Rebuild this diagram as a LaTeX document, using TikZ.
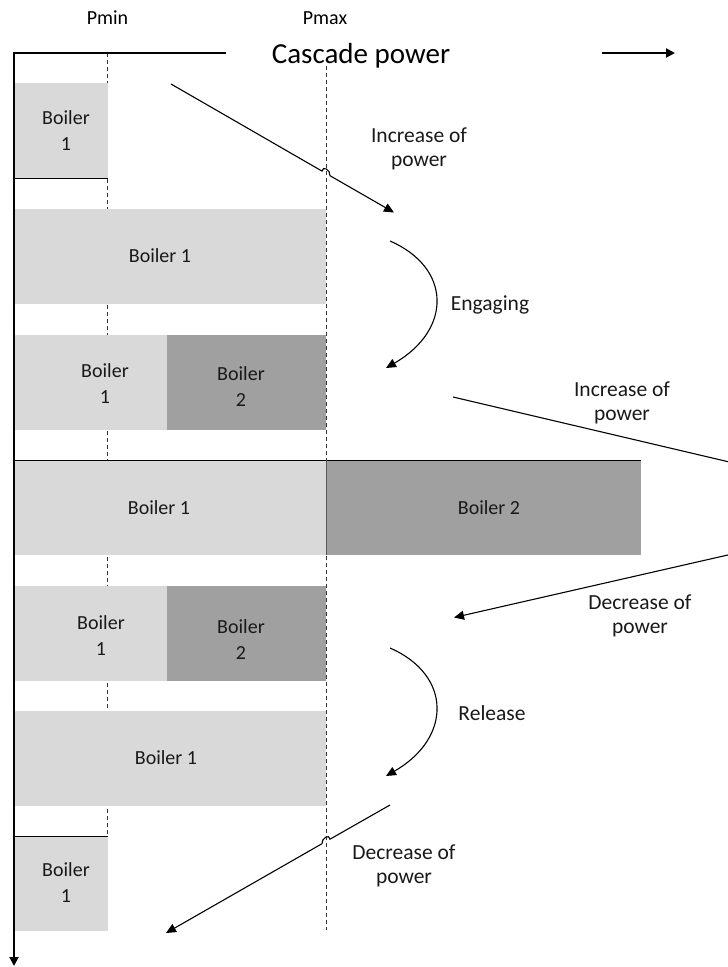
\documentclass[tikz,border=0pt]{standalone}
\usepackage{fontspec}
\setmainfont{Carlito}
\usetikzlibrary{arrows.meta}
\definecolor{lightb}{HTML}{D9D9D9}
\definecolor{darkb}{HTML}{A0A0A0}
\definecolor{dashc}{HTML}{333333}
\begin{document}
\begin{tikzpicture}[x=1pt,y=-1pt,
  boxstyle/.style={inner sep=0pt, anchor=north west, draw=none, minimum height=95pt},
  b1/.style={boxstyle, fill=lightb},
  b2/.style={boxstyle, fill=darkb},
  txt/.style={font=\fontsize{20}{26}\selectfont, align=center, inner sep=0pt, text=black!90},
  lbl/.style={font=\fontsize{21.5}{23.5}\selectfont, align=center, inner sep=0pt, text=black!90},
  axis/.style={line width=2pt, -{Triangle[length=9pt,width=9pt]}},
  arr/.style={line width=1.1pt, -{Triangle[length=10pt,width=9pt]}},
  guide/.style={dashc, line width=0.9pt, dash pattern=on 4pt off 3pt},
  edge/.style={black, line width=1pt}]
\useasboundingbox (0,0) rectangle (728,967);

% guide lines
\coordinate (pmintop) at (107.5,53);
\coordinate (pminbot) at (107.5,930);
\coordinate (pmaxtop) at (326,66);
\coordinate (pmaxbot) at (326,930);
\draw[guide] (pmintop) -- (pminbot);
\draw[guide] (pmaxtop) -- (pmaxbot);

% boxes
\node[b1, minimum width=94pt] (r1a) at (14,83) {};
\node[b1, minimum width=312pt] (r2a) at (14,209) {};
\node[b1, minimum width=153pt] (r3a) at (14,335) {};
\node[b2, minimum width=159pt] (r3b) at (167,335) {};
\node[b1, minimum width=312pt] (r4a) at (14,460) {};
\node[b2, minimum width=315pt] (r4b) at (326,460) {};
\node[b1, minimum width=153pt] (r5a) at (14,586) {};
\node[b2, minimum width=159pt] (r5b) at (167,586) {};
\node[b1, minimum width=312pt] (r6a) at (14,711) {};
\node[b1, minimum width=94pt] (r7a) at (14,836) {};

% box texts
\node[txt] (t1a) at (66,131) {Boiler\\1};
\node[txt] (t2a) at (160,256) {Boiler 1};
\node[txt] (t3a) at (105,384) {Boiler\\1};
\node[txt] (t3b) at (241,387) {Boiler\\2};
\node[txt] (t4a) at (159,508) {Boiler 1};
\node[txt] (t4b) at (489,508) {Boiler 2};
\node[txt] (t5a) at (101,636) {Boiler\\1};
\node[txt] (t5b) at (241,640) {Boiler\\2};
\node[txt] (t6a) at (166,758) {Boiler 1};
\node[txt] (t7a) at (66,883) {Boiler\\1};

% black edges
\draw[edge] (r1a.south west) -- (r1a.south east);
\draw[edge] (r4a.north west) -- (r4b.north east);
\draw[edge] (r7a.north west) -- (r7a.north east);
\draw[gray!70!black, line width=0.8pt] (r4a.north east) -- (r4a.south east);

% axes
\coordinate (topend) at (226,53);
\coordinate (corner) at (14,53);
\coordinate (axbot) at (14,966);
\draw[axis] (topend) -- (corner) -- (axbot);
\coordinate (tarrs) at (602,53);
\coordinate (tarre) at (675,53);
\draw[axis] (tarrs) -- (tarre);

% header texts
\node[font=\fontsize{20}{24}\selectfont, inner sep=0pt] (pmin) at (107.5,18) {Pmin};
\node[font=\fontsize{20}{24}\selectfont, inner sep=0pt] (pmax) at (325,18) {Pmax};
\node[font=\fontsize{29}{33}\selectfont, inner sep=0pt] (casc) at (361,56) {Cascade power};

% increase of power 1 (with hop)
\coordinate (i1s) at (171,84);
\coordinate (i1h1) at (322,171.1);
\coordinate (i1h2) at (330,175.7);
\coordinate (i1e) at (394,212.5);
\draw[arr] (i1s) -- (i1h1) .. controls (322.5,165.5) and (330.5,169.5) .. (i1h2) -- (i1e);
\node[lbl] (li1) at (419,149) {Increase of\\power};

% engaging
\coordinate (egs) at (390,241);
\coordinate (ege) at (386,368);
\draw[arr] (egs) .. controls (452,268) and (452,330) .. (ege);
\node[lbl] (leg) at (490,305) {Engaging};

% increase / decrease at right edge
\begin{scope}
\clip (0,0) rectangle (728,967);
\coordinate (i2s) at (453,397);
\coordinate (i2e) at (740,464.5);
\draw[arr] (i2s) -- (i2e);
\coordinate (d1s) at (730,554.5);
\coordinate (d1e) at (454,617.5);
\draw[arr] (d1s) -- (d1e);
\end{scope}
\node[lbl] (li2) at (622,403) {Increase of\\power};
\node[lbl] (ld1) at (640,616) {Decrease of\\power};

% release
\coordinate (rls) at (390,648);
\coordinate (rle) at (386,776);
\draw[arr] (rls) .. controls (452,675) and (452,738) .. (rle);
\node[lbl] (lrl) at (492,713) {Release};

% decrease of power 2 (with hop)
\coordinate (d2s) at (390,805);
\coordinate (d2h1) at (330,839.2);
\coordinate (d2h2) at (322,843.7);
\coordinate (d2e) at (166,933);
\draw[arr] (d2s) -- (d2h1) .. controls (329.5,833.5) and (321.5,838) .. (d2h2) -- (d2e);
\node[lbl] (ld2) at (404,866) {Decrease of\\power};
\end{tikzpicture}
\end{document}
